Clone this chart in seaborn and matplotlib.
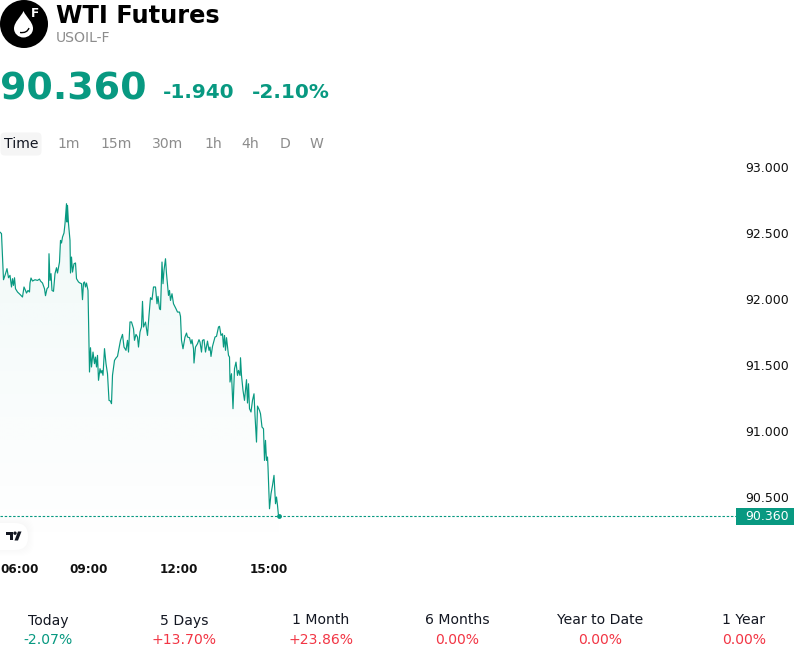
import numpy as np
import pandas as pd
import matplotlib
matplotlib.use("Agg")
import matplotlib.pyplot as plt
from matplotlib.patches import Circle, FancyBboxPatch, PathPatch, Polygon, Rectangle
from matplotlib.path import Path
import seaborn as sns

# Session ticks: minutes after midnight and last traded price
minutes = [
    362, 365, 367, 369, 372, 376, 379, 382, 385, 387, 389, 391, 393, 397, 402, 407, 410, 413, 415, 418,
    421, 422, 424, 427, 432, 437, 441, 443, 447, 451, 453, 456, 459, 460, 462, 464, 466, 469, 472, 475,
    477, 481, 483, 485, 487, 490, 492, 495, 496, 497, 499, 502, 503, 505, 507, 510, 513, 515, 519, 522,
    525, 527, 529, 531, 533, 535, 538, 539, 541, 543, 545, 548, 551, 553, 555, 557, 559, 562, 564, 566,
    568, 571, 574, 577, 580, 583, 585, 587, 591, 594, 597, 601, 603, 607, 610, 614, 617, 619, 622, 625,
    629, 631, 634, 637, 639, 642, 645, 647, 649, 653, 657, 660, 663, 666, 669, 673, 676, 678, 681, 683,
    686, 688, 690, 693, 695, 699, 701, 703, 706, 709, 714, 717, 721, 723, 725, 728, 732, 735, 737, 741,
    744, 746, 749, 750, 753, 757, 760, 762, 765, 767, 770, 773, 777, 780, 782, 784, 787, 792, 795, 799,
    801, 804, 807, 809, 811, 813, 815, 819, 821, 822, 825, 828, 831, 834, 837, 839, 842, 843, 845, 848,
    851, 853, 855, 857, 859, 861, 864, 867, 870, 872, 875, 877, 881, 883, 886, 889, 891, 893, 895, 897,
    898, 901, 904, 907, 910, 913, 915, 917, 919,
]
prices = [
    92.510, 92.498, 92.321, 92.149, 92.182, 92.233, 92.164, 92.182, 92.094, 92.157, 92.106, 92.164, 92.081, 92.056, 92.038, 92.018, 92.094, 92.068, 92.048, 92.068,
    92.056, 92.124, 92.162, 92.139, 92.149, 92.144, 92.154, 92.139, 92.124, 92.081, 92.028, 92.081, 92.094, 92.346, 92.144, 92.195, 92.068, 92.061, 92.195, 92.240,
    92.200, 92.283, 92.447, 92.427, 92.472, 92.503, 92.573, 92.725, 92.586, 92.712, 92.573, 92.447, 92.200, 92.321, 92.207, 92.270, 92.276, 92.157, 92.132, 92.124,
    92.119, 91.998, 92.124, 92.132, 92.094, 92.124, 92.068, 91.866, 91.450, 91.634, 91.488, 91.601, 91.513, 91.563, 91.488, 91.576, 91.387, 91.475, 91.442, 91.462,
    91.425, 91.627, 91.513, 91.437, 91.235, 91.230, 91.210, 91.425, 91.538, 91.556, 91.569, 91.652, 91.690, 91.735, 91.639, 91.614, 91.690, 91.601, 91.829, 91.829,
    91.778, 91.690, 91.735, 91.715, 91.639, 91.753, 91.791, 91.985, 91.791, 91.828, 91.727, 91.879, 92.013, 91.998, 92.094, 92.094, 91.967, 92.023, 91.929, 91.922,
    92.283, 92.119, 92.220, 92.308, 92.195, 92.030, 92.068, 91.992, 92.043, 91.967, 91.929, 91.904, 91.904, 91.871, 91.690, 91.626, 91.715, 91.745, 91.715, 91.710,
    91.664, 91.695, 91.626, 91.518, 91.639, 91.664, 91.695, 91.677, 91.601, 91.690, 91.695, 91.601, 91.684, 91.614, 91.639, 91.568, 91.644, 91.715, 91.720, 91.791,
    91.796, 91.727, 91.740, 91.639, 91.727, 91.614, 91.710, 91.576, 91.563, 91.374, 91.437, 91.172, 91.475, 91.525, 91.424, 91.462, 91.424, 91.558, 91.424, 91.311,
    91.235, 91.311, 91.392, 91.215, 91.361, 91.172, 91.147, 91.235, 91.285, 91.121, 90.919, 91.192, 91.159, 91.134, 91.033, 91.020, 90.780, 90.932, 90.780, 90.806,
    90.730, 90.414, 90.528, 90.591, 90.667, 90.452, 90.503, 90.440, 90.360,
]
price_ticks = [93.0, 92.5, 92.0, 91.5, 91.0, 90.5]
time_ticks = [362, 540, 720, 900]
time_labels = ["06:00", "09:00", "12:00", "15:00"]
last_price = 90.36

intervals = ["1m", "15m", "30m", "1h", "4h", "D", "W"]
interval_centres = [69, 116, 168, 213, 250, 285, 316.5]
periods = ["Today", "5 Days", "1 Month", "6 Months", "Year to Date", "1 Year"]
period_changes = ["-2.07%", "+13.70%", "+23.86%", "0.00%", "0.00%", "0.00%"]
period_centres = [48, 184, 321, 457, 600, 744]

GREEN = "#089981"
RED = "#F23645"
GREY = "#8C8C8C"
INK = "#131722"


def px(size):
    """Font size in points for a size given in pixels at 100 dpi."""
    return size * 0.72


sns.set_theme(style="white", rc={"font.family": "DejaVu Sans", "axes.spines.top": False,
                                 "axes.spines.right": False, "axes.spines.left": False,
                                 "axes.spines.bottom": False})

W, H = 800, 660
fig = plt.figure(figsize=(W / 100, H / 100), dpi=100, facecolor="white")

# Price panel: 132 px per price unit, 2 minutes per px
panel_top, panel_bottom, panel_right = 158, 556, 736
level_93 = 167.4
y_limits = (93 - (panel_bottom - level_93) / 132, 93 + (level_93 - panel_top) / 132)
x_limits = (362, 362 + 2 * panel_right)

ax = fig.add_axes([0, 1 - panel_bottom / H, panel_right / W, (panel_bottom - panel_top) / H])
ticks = pd.DataFrame({"minute": minutes, "price": prices})
sns.lineplot(data=ticks, x="minute", y="price", estimator=None, errorbar=None,
             color=GREEN, linewidth=0.85, ax=ax, zorder=3)
ax.set_xlabel("")
ax.set_ylabel("")

# Area under the line fades out at the bottom of the panel
floor = y_limits[0]
gradient = np.zeros((256, 2, 4))
gradient[..., :3] = matplotlib.colors.to_rgb(GREEN)
gradient[..., 3] = np.linspace(0.06, 0.0, 256)[:, None]
image = ax.imshow(gradient, extent=(minutes[0], minutes[-1], floor, max(prices)),
                  aspect="auto", origin="upper", zorder=1, interpolation="bilinear")
area = ax.fill_between(minutes, prices, floor, color="none", linewidth=0)
image.set_clip_path(area.get_paths()[0], transform=ax.transData)
ax.set_xlim(*x_limits)
ax.set_ylim(*y_limits)

ax.axhline(last_price, color=GREEN, linewidth=0.8, linestyle=(0, (2.2, 1.6)), zorder=2)
ax.scatter([minutes[-1]], [last_price], s=12, color=GREEN, zorder=4, linewidth=0)

ax.yaxis.tick_right()
ax.set_yticks(price_ticks, [f"{v:.3f}" for v in price_ticks])
ax.set_xticks(time_ticks, time_labels)
ax.tick_params(axis="y", length=0, pad=7, labelsize=px(12.5), labelcolor="#111111")
ax.tick_params(axis="x", length=0, pad=5, labelsize=px(12), labelcolor="#111111")
for label in ax.get_xticklabels():
    label.set_fontweight("bold")
ax.get_xticklabels()[0].set_ha("left")
ax.patch.set_alpha(0)

# Overlay in pixel units for the header, tabs and footer
ov = fig.add_axes([0, 0, 1, 1], zorder=5)
ov.set_xlim(0, W)
ov.set_ylim(H, 0)
ov.axis("off")
ov.patch.set_alpha(0)

ov.add_patch(Rectangle((720, 150), 80, 13, facecolor="white", edgecolor="none"))

# Instrument badge: black disc, white droplet, small F
ov.add_patch(Circle((24, 24), 24, facecolor="black", edgecolor="none"))
drop = Path(
    [(23.5, 11), (21, 17), (14, 22), (14, 28.5), (14, 33.5), (18.3, 37.5), (23.5, 37.5),
     (28.7, 37.5), (33, 33.5), (33, 28.5), (33, 22), (26, 17), (23.5, 11)],
    [Path.MOVETO] + [Path.CURVE4] * 12)
ov.add_patch(PathPatch(drop, facecolor="white", edgecolor="none"))
shine = Path([(20, 32.5), (27, 33.5), (29, 28)], [Path.MOVETO, Path.CURVE3, Path.CURVE3])
ov.add_patch(PathPatch(shine, facecolor="none", edgecolor="black", linewidth=1))
ov.text(34.5, 13.5, "F", color="white", fontsize=px(12), fontweight="bold", ha="center", va="center")

ov.text(56, 16, "WTI Futures", fontsize=px(24), fontweight="bold", color="black", va="center")
ov.text(56, 38.5, "USOIL-F", fontsize=px(14), color=GREY, va="center")

ov.text(0, 89, "90.360", fontsize=px(38), fontweight="bold", color=GREEN, va="center")
ov.text(163, 92.5, "-1.940", fontsize=px(20), fontweight="bold", color=GREEN, va="center")
ov.text(252, 92.5, "-2.10%", fontsize=px(20), fontweight="bold", color=GREEN, va="center")

# Interval tabs
ov.add_patch(FancyBboxPatch((0.5, 132.5), 41, 23, boxstyle="round,pad=0,rounding_size=4",
                            facecolor="#F5F5F5", edgecolor="none"))
ov.text(21, 144.5, "Time", fontsize=px(14), color=INK, ha="center", va="center")
for centre, name in zip(interval_centres, intervals):
    ov.text(centre, 144.5, name, fontsize=px(14), color=GREY, ha="center", va="center")

# Last price tag
ov.add_patch(Rectangle((736, 508), 58, 17, facecolor=GREEN, edgecolor="none"))
ov.text(767, 517, f"{last_price:.3f}", fontsize=px(12.5), color="white", ha="center", va="center")

# Watermark chip at the chart corner with a soft halo
for grow in [6, 5, 4, 3, 2, 1]:
    ov.add_patch(FancyBboxPatch((-14 - grow, 523 - grow), 42 + 2 * grow, 27 + 2 * grow,
                                boxstyle="round,pad=0,rounding_size=13", facecolor="black",
                                alpha=0.004, edgecolor="none"))
ov.add_patch(FancyBboxPatch((-14, 523), 42, 27, boxstyle="round,pad=0,rounding_size=13",
                            facecolor="white", edgecolor="none"))
ov.add_patch(Polygon([(6, 531.5), (13, 531.5), (13, 540), (10, 540), (10, 535), (6, 535)],
                     facecolor=INK, edgecolor="none"))
ov.add_patch(Circle((15, 533.2), 1.7, facecolor=INK, edgecolor="none"))
ov.add_patch(Polygon([(18, 531.5), (21.5, 531.5), (18, 540.5), (14.5, 540.5)], facecolor=INK, edgecolor="none"))

# Period performance row
for centre, name, change in zip(period_centres, periods, period_changes):
    ov.text(centre, 620.5, name, fontsize=px(14), color=INK, ha="center", va="center")
    ov.text(centre, 640.5, change, fontsize=px(14),
            color=GREEN if change.startswith("-") else RED, ha="center", va="center")

fig.savefig("out.png", dpi=100, facecolor="white")
